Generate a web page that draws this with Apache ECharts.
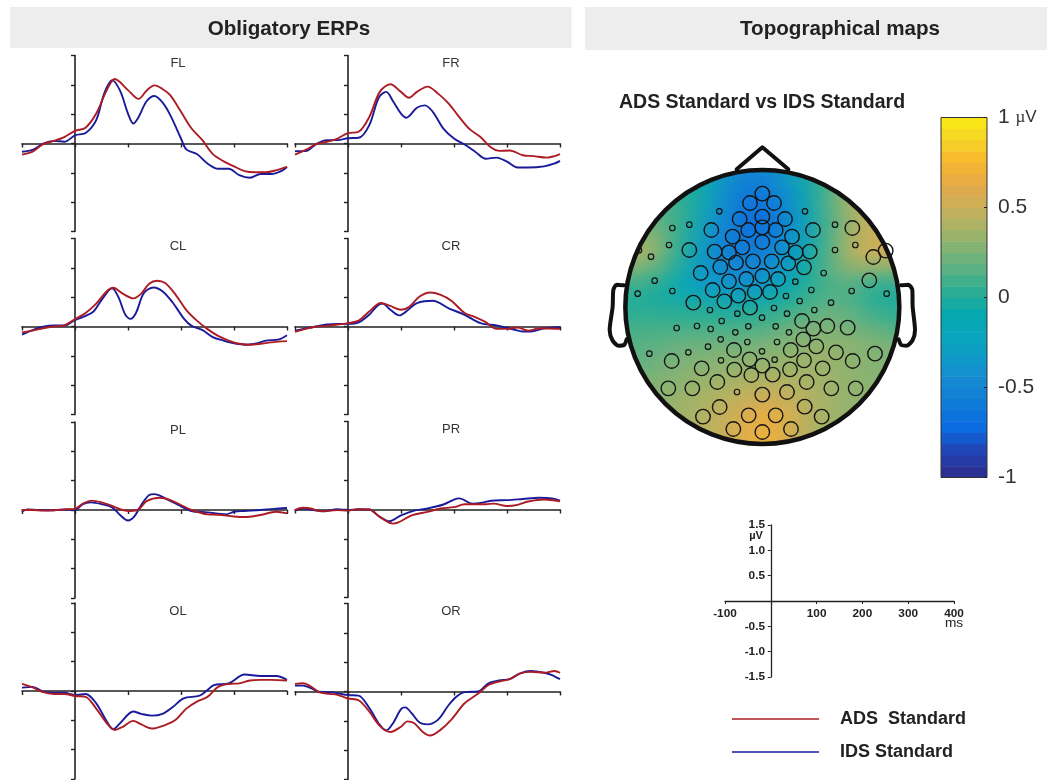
<!DOCTYPE html>
<html><head><meta charset="utf-8">
<style>html,body{margin:0;padding:0;background:#fff}#c{width:1047px;height:780px}</style>
<script src="https://cdn.jsdelivr.net/npm/echarts@6/dist/echarts.min.js"></script>
</head><body><div id="c"></div>
<script>
// ERP waveforms: [ms, microvolts]
const flAds=[[-100,-.19],[-80,-.14],[-60,-.01],[-40,.045],[-20,.11],[0,.215],[20,.27],[40,.51],[60,.91],[75,1.1],[100,.91],[120,.76],[135,.9],[150,.99],[165,.93],[180,.82],[200,.54],[220,.255],[240,.06],[260,-.18],[280,-.3],[300,-.39],[320,-.47],[340,-.49],[360,-.49],[380,-.455],[400,-.4]];
const flIds=[[-100,-.14],[-80,-.11],[-60,0],[-40,.045],[-20,.03],[0,.14],[20,.18],[40,.4],[55,.85],[70,1.08],[85,.9],[100,.51],[110,.34],[120,.45],[135,.72],[150,.81],[165,.7],[180,.48],[200,.085],[210,-.1],[230,-.18],[250,-.34],[270,-.43],[290,-.43],[310,-.54],[330,-.585],[350,-.52],[370,-.52],[390,-.465],[400,-.4]];
const frAds=[[-100,-.19],[-80,-.11],[-60,-.01],[-40,.03],[-20,.085],[0,.176],[20,.2],[40,.45],[60,.88],[80,1.01],[100,.88],[115,.78],[130,.88],[150,.97],[170,.85],[190,.68],[210,.45],[230,.24],[250,.11],[270,-.07],[285,-.125],[305,-.12],[330,-.2],[350,-.215],[375,-.24],[390,-.215],[400,-.18]];
const frIds=[[-100,-.13],[-80,-.13],[-60,-.01],[-40,.057],[-20,.057],[0,.09],[20,.097],[40,.31],[58,.78],[72,.88],[85,.72],[100,.51],[110,.44],[130,.61],[145,.65],[160,.54],[180,.255],[200,.085],[220,-.017],[240,-.14],[260,-.26],[280,-.24],[300,-.31],[320,-.41],[340,-.41],[370,-.39],[390,-.34],[400,-.295]];
const clAds=[[-100,-.1],[-80,-.07],[-60,-.03],[-40,0],[-20,.02],[0,.125],[20,.23],[40,.39],[60,.6],[72,.66],[90,.56],[110,.48],[125,.56],[140,.73],[155,.78],[170,.74],[190,.54],[210,.28],[230,.1],[250,-.045],[270,-.16],[290,-.24],[310,-.295],[330,-.31],[350,-.295],[370,-.27],[400,-.25]];
const clIds=[[-100,-.14],[-80,-.06],[-60,-.005],[-40,.017],[-20,.017],[0,.11],[20,.18],[35,.255],[50,.45],[70,.65],[82,.5],[95,.2],[105,.13],[115,.23],[130,.57],[148,.665],[165,.6],[185,.4],[205,.14],[220,.01],[240,-.057],[260,-.18],[280,-.24],[300,-.285],[325,-.31],[345,-.285],[360,-.24],[385,-.22],[400,-.15]];
const crAds=[[-100,-.09],[-80,-.04],[-60,0],[-40,.01],[-20,.034],[0,.057],[20,.1],[40,.255],[62,.4],[80,.35],[100,.285],[115,.33],[135,.51],[155,.58],[175,.54],[195,.44],[220,.23],[240,.16],[260,.074],[280,-.04],[300,-.04],[320,-.02],[340,-.07],[360,-.034],[380,-.034],[400,-.04]];
const crIds=[[-100,-.07],[-80,-.034],[-60,0],[-40,.034],[-20,.045],[0,.045],[20,.07],[40,.2],[55,.35],[65,.39],[80,.285],[97,.19],[115,.295],[130,.4],[160,.44],[190,.31],[220,.2],[250,.057],[280,.017],[305,-.034],[330,-.085],[345,-.085],[370,-.03],[400,-.01]];
const plAds=[[-100,0],[-80,0],[-60,-.01],[-40,-.005],[-20,.01],[0,.02],[15,.11],[32,.16],[50,.13],[70,.07],[90,0],[105,-.017],[120,.01],[135,.15],[160,.21],[180,.17],[200,.085],[220,0],[250,-.074],[270,-.08],[300,-.11],[320,-.12],[350,-.085],[380,-.03],[400,-.057]];
const plIds=[[-100,-.03],[-90,.01],[-70,0],[-40,-.005],[-20,.01],[0,0],[15,.1],[30,.13],[50,.1],[70,.045],[85,-.085],[100,-.18],[112,-.11],[125,.085],[140,.255],[150,.27],[170,.2],[195,.085],[220,-.017],[250,-.04],[285,-.074],[300,-.03],[320,-.017],[350,0],[375,.02],[400,.034]];
const prAds=[[-100,-.01],[-85,.03],[-70,.017],[-50,-.03],[-20,-.01],[0,-.02],[20,.005],[40,0],[60,-.125],[85,-.24],[95,-.22],[120,-.1],[150,-.04],[175,.017],[200,.04],[220,.09],[260,.09],[275,.1],[300,.06],[320,.08],[340,.136],[370,.17],[400,.14]];
const prIds=[[-100,-.02],[-85,.017],[-65,-.01],[-45,-.03],[-20,.005],[0,-.01],[20,.005],[40,0],[60,-.125],[78,-.2],[100,-.1],[125,-.02],[150,.017],[180,.085],[200,.17],[210,.19],[235,.1],[250,.11],[270,.15],[300,.16],[330,.18],[360,.2],[385,.19],[400,.15]];
const olAds=[[-100,.12],[-80,.06],[-60,-.02],[-40,-.05],[-20,-.05],[0,-.085],[20,-.1],[40,-.3],[60,-.55],[75,-.665],[90,-.61],[110,-.51],[125,-.57],[145,-.64],[170,-.58],[190,-.49],[210,-.3],[230,-.18],[250,-.1],[270,.07],[290,.12],[310,.13],[330,.18],[350,.19],[370,.19],[400,.18]];
const olIds=[[-100,.057],[-80,.07],[-60,-.01],[-40,-.03],[-20,-.03],[0,-.07],[20,-.05],[40,-.21],[60,-.52],[72,-.65],[85,-.55],[110,-.35],[125,-.39],[145,-.42],[165,-.39],[185,-.27],[205,-.125],[235,-.08],[250,.017],[262,.1],[290,.13],[320,.28],[350,.255],[380,.255],[400,.19]];
const orAds=[[-100,.13],[-85,.14],[-70,.085],[-55,-.01],[-35,-.04],[-20,-.057],[0,-.12],[20,-.15],[40,-.34],[60,-.585],[80,-.69],[100,-.6],[112,-.51],[125,-.54],[140,-.68],[155,-.75],[175,-.65],[195,-.48],[220,-.2],[245,-.04],[265,.11],[285,.17],[305,.21],[325,.31],[345,.335],[370,.32],[390,.35],[400,.32]];
const orIds=[[-100,.1],[-85,.1],[-70,.057],[-55,-.005],[-35,-.01],[-20,-.03],[0,-.06],[20,-.07],[40,-.28],[60,-.57],[72,-.665],[85,-.54],[100,-.3],[108,-.27],[120,-.37],[135,-.53],[150,-.56],[170,-.48],[190,-.23],[205,-.085],[220,-.01],[245,0],[265,.14],[285,.19],[305,.21],[325,.31],[345,.35],[370,.32],[385,.28],[400,.21]];

// Scalp electrodes on the map's own coordinates
const bigElectrodes=[[487,161],[450,189],[522,189],[487,230],[419,237],[555,237],[334,270],[639,270],[757,264],[487,262],[445,270],[527,270],[398,290],[576,290],[487,306],[268,330],[427,322],[546,322],[344,335],[387,337],[587,337],[629,335],[857,332],[820,351],[361,381],[408,368],[459,364],[515,364],[565,370],[612,382],[302,399],[808,421],[387,424],[439,417],[487,408],[534,417],[338,450],[373,484],[415,467],[464,456],[510,456],[280,488],[450,503],[606,543],[640,566],[682,558],[743,563],[610,598],[402,630],[572,630],[649,619],[708,637],[825,641],[215,663],[449,658],[612,661],[758,663],[305,685],[403,689],[487,677],[570,688],[668,685],[454,705],[518,704],[352,726],[620,726],[205,745],[277,745],[694,745],[767,745],[487,764],[561,756],[359,801],[614,800],[309,830],[446,826],[527,826],[665,830],[400,867],[487,876],[573,867]];
const smallElectrodes=[[358,214],[615,214],[268,254],[217,264],[705,254],[207,315],[766,315],[117,331],[153,350],[705,330],[671,399],[164,422],[586,425],[634,450],[113,461],[217,453],[755,453],[860,461],[558,468],[599,483],[693,488],[330,510],[412,521],[522,504],[643,510],[561,521],[486,533],[365,543],[230,564],[291,558],[332,567],[445,559],[527,559],[406,577],[567,577],[362,598],[442,606],[531,606],[324,620],[148,641],[265,637],[486,634],[363,661],[524,659],[411,756]];

// Scalp potential (microvolts) read at a regular lattice of the map
const fieldX=[87,137,187,237,287,337,387,437,487,537,587,637,687,737,787,837,887];
const fieldY=[101,151,201,251,301,351,401,451,501,551,601,651,701,751,801,851,901];
const fieldValues=[
[0,0,0,0,-.02,-.05,-.3,-.45,-.45,-.42,-.25,-.02,.1,.2,.3,.3,.3],
[0,0,.02,.02,0,-.1,-.35,-.5,-.55,-.45,-.25,-.05,.1,.22,.35,.35,.35],
[.1,.1,.1,.05,0,-.12,-.4,-.6,-.65,-.55,-.35,-.1,.08,.3,.4,.4,.4],
[.15,.15,.15,.1,.02,-.18,-.45,-.62,-.7,-.62,-.42,-.12,.08,.3,.45,.5,.5],
[.2,.22,.2,.1,-.02,-.3,-.5,-.65,-.72,-.65,-.45,-.18,.05,.25,.42,.5,.5],
[.28,.4,.3,.1,-.05,-.35,-.55,-.62,-.62,-.55,-.4,-.15,.08,.28,.48,.55,.55],
[.3,.48,.3,.08,-.1,-.38,-.55,-.55,-.55,-.48,-.3,-.1,.1,.3,.48,.5,.5],
[.15,.18,.12,.02,-.2,-.38,-.45,-.48,-.45,-.4,-.18,-.02,.1,.2,.25,.2,.15],
[.02,.02,0,-.1,-.2,-.25,-.3,-.32,-.28,-.2,-.05,.03,.1,.12,.1,-.02,-.05],
[0,0,0,0,0,0,-.05,-.05,0,0,.05,.12,.18,.18,.15,.05,0],
[.1,.1,.08,.08,.08,.08,.08,.08,.1,.12,.18,.22,.25,.25,.2,.15,.1],
[.15,.15,.15,.18,.2,.2,.2,.22,.22,.25,.28,.3,.3,.3,.3,.25,.25],
[.18,.18,.2,.25,.25,.28,.28,.28,.3,.3,.33,.35,.35,.33,.3,.28,.28],
[.2,.2,.25,.28,.3,.33,.33,.38,.38,.38,.38,.38,.35,.33,.3,.28,.28],
[.3,.3,.3,.3,.35,.38,.42,.42,.5,.48,.45,.42,.38,.35,.3,.3,.3],
[.3,.3,.3,.35,.4,.42,.48,.52,.6,.6,.52,.42,.38,.35,.3,.3,.3],
[.3,.3,.3,.35,.4,.45,.5,.58,.68,.72,.58,.45,.38,.35,.3,.3,.3]];

// Head outline on the map's coordinates
const headCentre=[487,501], headRadius=411;
const noseLine=[[410,88],[487,22],[565,88]];
const leftEar=[[72,436],[50,434],[40,450],[38,500],[29,570],[37,600],[55,617],[72,615],[80,598]];
const rightEar=[[903,436],[925,434],[937,450],[938,500],[945,570],[938,600],[920,617],[904,615],[896,598]];

// Colour scale
const colourStops=[[-1,[46,43,138]],[-.85,[33,69,181]],[-.72,[10,108,224]],[-.5,[21,132,210]],[-.38,[18,148,205]],[-.22,[9,164,189]],[-.1,[4,168,176]],[.05,[48,174,143]],[.2,[106,178,127]],[.35,[156,179,106]],[.5,[200,176,90]],[.62,[227,169,74]],[.76,[249,183,45]],[.9,[245,216,36]],[1,[249,237,20]]];
const colourBandCount=32;
const colourTicks=[-1,-.5,0,.5,1];

const keyXTicks=[-100,100,200,300,400];
const keyYTicks=[-1.5,-1,-.5,.5,1,1.5];

function rgbOf(v){
  if(v<=colourStops[0][0])return colourStops[0][1];
  for(let i=1;i<colourStops.length;i++){
    const a=colourStops[i-1],b=colourStops[i];
    if(v<=b[0]){const t=(v-a[0])/(b[0]-a[0]);return a[1].map((c,k)=>Math.round(c+(b[1][k]-c)*t));}
  }
  return colourStops[colourStops.length-1][1];
}
const css=(c,a)=>`rgba(${c[0]},${c[1]},${c[2]},${a})`;

const RED='#ab1c24',BLUE='#1a1a9a',INK='#222';
const panels=[
 ['FL',flAds,flIds,22,55.5,178],['FR',frAds,frIds,295,55.5,451],
 ['CL',clAds,clIds,22,238.5,178],['CR',crAds,crIds,295,238.5,451],
 ['PL',plAds,plIds,22,422,178],['PR',prAds,prIds,295,421.5,451],
 ['OL',olAds,olIds,22,603,178],['OR',orAds,orIds,295,603.5,451]];

const grid=[],xAxis=[],yAxis=[],series=[],graphic=[];
const rect=(x,y,w,h)=>({type:'rect',shape:{x,y,width:w,height:h},style:{fill:'#ededed'},z:-1,silent:true});
const label=(text,x,y,font,align,fill)=>({type:'text',x,y,z:30,silent:true,style:{text,font,fill:fill||INK,align:align||'center',verticalAlign:'middle'}});
graphic.push(rect(10,7,561.5,41),rect(585,7,462,43));
graphic.push(label('Obligatory ERPs',289,29,'bold 20.6px "Liberation Sans"'));
graphic.push(label('Topographical maps',840,29,'bold 20.6px "Liberation Sans"'));
graphic.push(label('ADS Standard vs IDS Standard',619,103,'bold 19.5px "Liberation Sans"','left'));

panels.forEach((p,i)=>{
  grid.push({left:p[3],top:p[4],width:265,height:176});
  xAxis.push({gridIndex:i,type:'value',min:-100,max:400,interval:100,axisLine:{onZero:true,lineStyle:{color:INK,width:1.6}},axisTick:{length:4,lineStyle:{color:INK,width:1.4}},axisLabel:{show:false},splitLine:{show:false}});
  yAxis.push({gridIndex:i,type:'value',min:-1.5,max:1.5,interval:.5,axisLine:{show:true,onZero:true,lineStyle:{color:INK,width:1.6}},axisTick:{show:true,length:4,lineStyle:{color:INK,width:1.4}},axisLabel:{show:false},splitLine:{show:false}});
  [['IDS Standard',p[2],BLUE],['ADS Standard',p[1],RED]].forEach(s=>series.push({type:'line',name:s[0],xAxisIndex:i,yAxisIndex:i,data:s[1],smooth:.33,showSymbol:false,symbol:'none',lineStyle:{color:s[2],width:1.9},itemStyle:{color:s[2]},z:3,silent:true}));
  graphic.push(label(p[0],p[5],p[4]+8,'13px "Liberation Sans"','center','#333'));
});

// Key axes
let n=panels.length;
grid.push({left:725,top:525,width:229,height:152});
const keyFont={fontFamily:'Liberation Sans',fontWeight:'bold',fontSize:11.8,color:INK};
xAxis.push({gridIndex:n,type:'value',min:-100,max:400,interval:100,axisLine:{onZero:true,lineStyle:{color:INK,width:1.3}},axisTick:{length:3,lineStyle:{color:INK}},splitLine:{show:false},axisLabel:Object.assign({margin:-69,formatter:v=>keyXTicks.includes(v)?String(v):''},keyFont)});
yAxis.push({gridIndex:n,type:'value',min:-1.5,max:1.5,interval:.5,axisLine:{show:true,onZero:true,lineStyle:{color:INK,width:1.3}},axisTick:{show:true,length:3,lineStyle:{color:INK}},splitLine:{show:false},axisLabel:Object.assign({margin:-40,formatter:v=>keyYTicks.includes(v)?v.toFixed(1):''},keyFont)});
series.push({type:'line',xAxisIndex:n,yAxisIndex:n,data:[],silent:true});
graphic.push(label('µV',756,536,'bold 11px "Liberation Sans"'));
graphic.push(label('ms',954,623,'13.7px "Liberation Sans"'));

// Map grid: axes run in the map's own coordinates
n++;
grid.push({left:600,top:140,width:330,height:320});
xAxis.push({gridIndex:n,type:'value',min:0,max:990,show:false});
yAxis.push({gridIndex:n,type:'value',min:0,max:960,inverse:true,show:false});
const onMap={xAxisIndex:n,yAxisIndex:n,silent:true,animation:false};

const headClip=api=>{const c=api.coord(headCentre),r=api.size([headRadius,0])[0];return {type:'circle',shape:{cx:c[0],cy:c[1],r}};};
series.push(Object.assign({type:'custom',z:1,data:[[headCentre[0],headCentre[1],.05]],encode:{x:0,y:1},renderItem:(ps,api)=>{
  const c=api.coord([api.value(0),api.value(1)]),r=api.size([headRadius,0])[0];
  return {type:'circle',shape:{cx:c[0],cy:c[1],r},style:{fill:css(rgbOf(api.value(2)),1)}};
}},onMap));
const fieldData=[];
fieldY.forEach((y,r)=>fieldX.forEach((x,k)=>fieldData.push([x,y,fieldValues[r][k]])));
series.push(Object.assign({type:'custom',z:2,data:fieldData,encode:{x:0,y:1},renderItem:(ps,api)=>{
  const c=api.coord([api.value(0),api.value(1)]),r=api.size([120,0])[0],rgb=rgbOf(api.value(2));
  return {type:'circle',shape:{cx:c[0],cy:c[1],r},clipPath:headClip(api),style:{fill:{type:'radial',x:.5,y:.5,r:.5,colorStops:[{offset:0,color:css(rgb,.8)},{offset:.45,color:css(rgb,.4)},{offset:1,color:css(rgb,0)}]}}};
}},onMap));
series.push(Object.assign({type:'custom',z:5,data:[headCentre],encode:{x:0,y:1},renderItem:(ps,api)=>{
  const c=api.coord([api.value(0),api.value(1)]),r=api.size([headRadius,0])[0];
  return {type:'circle',shape:{cx:c[0],cy:c[1],r},style:{fill:'none',stroke:'#111',lineWidth:4.5}};
}},onMap));
[[noseLine,false],[leftEar,.25],[rightEar,.25]].forEach(s=>series.push(Object.assign({type:'line',z:4,data:s[0],smooth:s[1],showSymbol:false,symbol:'none',lineStyle:{color:'#111',width:4,join:'round',cap:'round'}},onMap)));
series.push(Object.assign({type:'scatter',z:6,data:bigElectrodes,symbolSize:14.5,itemStyle:{color:'rgba(0,0,0,0)',borderColor:'#151515',borderWidth:1.4,opacity:1}},onMap));
series.push(Object.assign({type:'scatter',z:6,data:smallElectrodes,symbolSize:5.5,itemStyle:{color:'rgba(0,0,0,0)',borderColor:'#151515',borderWidth:1.2,opacity:1}},onMap));

// Colour bar
n++;
grid.push({left:941,top:117.5,width:46,height:360});
xAxis.push({gridIndex:n,type:'value',min:0,max:1,show:false});
yAxis.push({gridIndex:n,type:'value',min:-1,max:1,interval:.5,position:'right',
  axisLine:{show:false,onZero:false},axisTick:{show:true,inside:true,length:3,lineStyle:{color:'#222',width:1}},splitLine:{show:false},
  axisLabel:{show:true,margin:11,fontFamily:'Liberation Sans',fontSize:21,color:'#333',
    formatter:v=>v===1?'{a|1} {b|µ}{a2|V}':(colourTicks.includes(v)?String(v):''),
    rich:{a:{fontSize:21,color:'#333',fontFamily:'Liberation Sans'},b:{fontSize:17,color:'#333',fontFamily:'Liberation Serif'},a2:{fontSize:17,color:'#333',fontFamily:'Liberation Sans'}}},z:9});
const bandData=[];
for(let b=0;b<colourBandCount;b++)bandData.push([-1+2*b/colourBandCount,-1+2*(b+1)/colourBandCount]);
series.push({type:'custom',xAxisIndex:n,yAxisIndex:n,silent:true,animation:false,z:2,data:bandData,encode:{y:[0,1]},renderItem:(ps,api)=>{
  const lo=api.value(0),hi=api.value(1),a=api.coord([0,hi]),b=api.coord([1,lo]);
  return {type:'rect',shape:{x:a[0],y:a[1],width:b[0]-a[0],height:b[1]-a[1]+.5},style:{fill:css(rgbOf((lo+hi)/2),1)}};
}});
series.push({type:'custom',xAxisIndex:n,yAxisIndex:n,silent:true,animation:false,z:3,data:[[-1,1]],encode:{y:[0,1]},renderItem:(ps,api)=>{
  const a=api.coord([0,api.value(1)]),b=api.coord([1,api.value(0)]);
  return {type:'rect',shape:{x:a[0],y:a[1],width:b[0]-a[0],height:b[1]-a[1]},style:{fill:'none',stroke:'#333',lineWidth:1}};
}});

const option={animation:false,backgroundColor:'#fff',grid,xAxis,yAxis,series,graphic,
 legend:{data:[{name:'ADS Standard'},{name:'IDS Standard'}],orient:'vertical',left:732,top:710,padding:0,icon:'rect',itemWidth:87,itemHeight:1.5,itemGap:15,selectedMode:false,
   formatter:nm=>nm==='ADS Standard'?'ADS  Standard':nm,
   textStyle:{fontFamily:'Liberation Sans',fontWeight:'bold',fontSize:18,color:INK,padding:[0,0,0,16]}}};
echarts.init(document.getElementById('c'),null,{renderer:'canvas'}).setOption(option);
</script></body></html>
